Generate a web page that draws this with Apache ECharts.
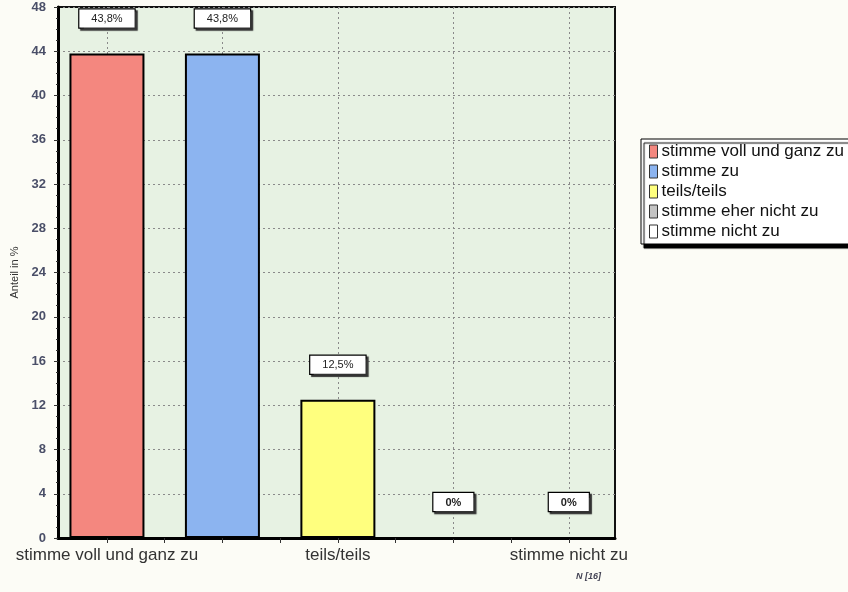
<!DOCTYPE html>
<html><head><meta charset="utf-8">
<script src="https://cdn.jsdelivr.net/npm/echarts@6/dist/echarts.min.js"></script>
<style>html,body{margin:0;padding:0;background:#fcfcf6}#c{width:848px;height:592px}</style>
</head><body><div id="c"></div>
<script>
const categories = ['stimme voll und ganz zu', 'stimme zu', 'teils/teils', 'stimme eher nicht zu', 'stimme nicht zu'];
const values = [43.8, 43.8, 12.5, 0, 0];
const xLabelIdx = [0, 2, 4];
const xTicks = [0, 0.5, 1, 1.5, 2, 2.5, 3, 3.5, 4];
const colors = ['#f4877f', '#8cb4f0', '#ffff7e', '#c4c4c4', '#ffffff'];
const nText = 'N [16]';

const chart = echarts.init(document.getElementById('c'));
const fmt = v => v === 0 ? '0%' : v.toFixed(1).replace('.', ',') + '%';
const dash = { color: '#8a8a8a', type: [2, 3], width: 1 };
chart.setOption({
  backgroundColor: '#fcfcf6',
  animation: false,
  textStyle: { fontFamily: 'Arial, "Liberation Sans", sans-serif' },
  grid: [
    { left: 58, top: 7, width: 557, height: 531, show: true, backgroundColor: '#e7f2e3', borderColor: '#111', borderWidth: 2, containLabel: false },
    { left: 107, top: 7, width: 462, height: 531, show: false, containLabel: false }
  ],
  legend: {
    orient: 'vertical', left: 641, top: 139,
    data: categories,
    backgroundColor: '#ffffff', borderColor: '#000', borderWidth: 1,
    shadowColor: '#000', shadowOffsetX: 3, shadowOffsetY: 4, shadowBlur: 1,
    padding: [4, 10, 4, 8], itemGap: 3, itemWidth: 8, itemHeight: 13,
    icon: 'rect',
    itemStyle: { borderColor: '#333', borderWidth: 1 },
    textStyle: { fontSize: 17, color: '#111', padding: [0, 0, 0, -1] }
  },
  xAxis: [{
    type: 'value', min: -0.424, max: 4.4, gridIndex: 0,
    axisLine: { show: true, onZero: false, lineStyle: { color: '#000', width: 3 } },
    axisTick: { show: true, customValues: xTicks, length: 5, lineStyle: { color: '#333', width: 1 } },
    axisLabel: { customValues: xLabelIdx, formatter: v => categories[v], fontSize: 17, color: '#333', margin: 9 },
    splitLine: { show: false }
  }, {
    type: 'category', data: categories, boundaryGap: false, gridIndex: 1,
    axisLine: { show: false }, axisTick: { show: false }, axisLabel: { show: false },
    splitLine: { show: true, interval: 0, lineStyle: dash }
  }],
  yAxis: [{
    type: 'value', min: 0, max: 48, interval: 4, gridIndex: 0,
    name: 'Anteil in %', nameLocation: 'middle', nameGap: 32, nameRotate: 90,
    nameTextStyle: { fontSize: 11, color: '#333' },
    axisLine: { show: true, onZero: false, lineStyle: { color: '#000', width: 3 } },
    axisTick: { show: true, length: 4, lineStyle: { color: '#333' } },
    minorTick: { show: true, splitNumber: 4, length: 2, lineStyle: { color: '#333' } },
    axisLabel: { fontSize: 13, fontWeight: 'bold', color: '#4a4f68', margin: 12 },
    splitLine: { show: true, lineStyle: dash }
  }, {
    type: 'value', min: 0, max: 48, gridIndex: 1, show: false,
    axisLine: { show: false, onZero: false }, splitLine: { show: false }
  }],
  graphic: [{ type: 'text', left: 576, top: 572, style: { text: nText, fontSize: 9, fontStyle: 'italic', fontWeight: 'bold', fill: '#445' } }],
  series: categories.map((name, i) => ({
    type: 'bar', name, stack: 'all', barWidth: 75, xAxisIndex: 0, yAxisIndex: 0,
    data: [[i, values[i]]],
    itemStyle: { color: colors[i], borderColor: '#000', borderWidth: 2 },
    label: {
      show: true, position: 'top', distance: 26, formatter: p => fmt(p.value[1]),
      fontSize: 11, color: '#222', fontWeight: i >= 3 ? 'bold' : 'normal',
      backgroundColor: '#fff', borderColor: '#000', borderWidth: 1.2,
      padding: [4, 12, 3, 12],
      shadowColor: '#333', shadowOffsetX: 2, shadowOffsetY: 2, shadowBlur: 1
    }
  }))
});
</script></body></html>
